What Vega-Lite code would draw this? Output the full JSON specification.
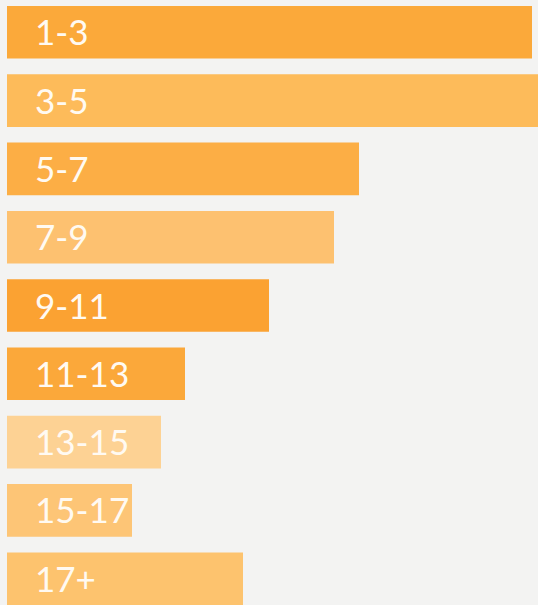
{
  "$schema": "https://vega.github.io/schema/vega-lite/v6.json",
  "width": 531,
  "height": 599,
  "padding": {"left": 7, "top": 6, "right": 0, "bottom": 0},
  "autosize": "none",
  "background": "#f3f3f2",
  "config": {"view": {"stroke": null}},
  "data": {"values": [
    {"age": "1-3", "value": 525, "color": "#fba93a"},
    {"age": "3-5", "value": 545, "color": "#fdbb5a"},
    {"age": "5-7", "value": 352, "color": "#fcae45"},
    {"age": "7-9", "value": 327, "color": "#fdc170"},
    {"age": "9-11", "value": 262, "color": "#fba232"},
    {"age": "11-13", "value": 178, "color": "#fba83a"},
    {"age": "13-15", "value": 154, "color": "#fdd294"},
    {"age": "15-17", "value": 125, "color": "#fdc576"},
    {"age": "17+", "value": 236, "color": "#fdc36e"}
  ]},
  "encoding": {
    "y": {"field": "age", "type": "nominal", "sort": null, "axis": null,
          "scale": {"paddingInner": 0.23, "paddingOuter": 0}}
  },
  "layer": [
    {
      "mark": {"type": "bar", "clip": true},
      "encoding": {
        "x": {"field": "value", "type": "quantitative", "axis": null, "scale": {"domain": [0, 531], "nice": false}},
        "color": {"field": "color", "type": "nominal", "scale": null, "legend": null}
      }
    },
    {
      "mark": {"type": "text", "align": "left", "baseline": "middle", "dx": 28, "dy": 2, "font": "Lato", "fontSize": 35, "color": "#fffaf2"},
      "encoding": {
        "x": {"datum": 0, "type": "quantitative"},
        "text": {"field": "age"}
      }
    }
  ]
}
